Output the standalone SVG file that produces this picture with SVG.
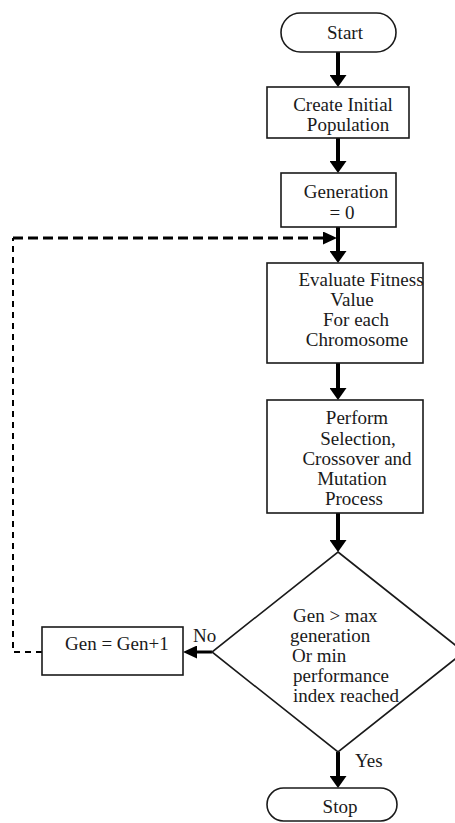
<svg xmlns="http://www.w3.org/2000/svg" width="455" height="823" viewBox="0 0 455 823">
<style>
.box{fill:#fff;stroke:#1a1a1a;stroke-width:1.6}
.t{font-family:"Liberation Serif","Times New Roman",serif;font-size:19px;fill:#1a1a1a}
.m{text-anchor:middle}
.arr{fill:none;stroke:#000;stroke-width:4}
.dash{fill:none;stroke:#000}
</style>
<defs>
<marker id="ah" viewBox="0 0 12 17" refX="8" refY="8.5" markerWidth="12" markerHeight="17" orient="auto" markerUnits="userSpaceOnUse">
<path d="M0,0 L12,8.5 L0,17 z" fill="#000"/>
</marker>
<marker id="ahs" viewBox="0 0 14 13" refX="10" refY="6.5" markerWidth="14" markerHeight="13" orient="auto" markerUnits="userSpaceOnUse">
<path d="M0,0 L14,6.5 L0,13 z" fill="#000"/>
</marker>
</defs>
<g id="connectors">
<path class="arr" d="M338,52 L338,83" marker-end="url(#ah)"/>
<path class="arr" d="M338,138 L338,169" marker-end="url(#ah)"/>
<path class="arr" d="M338,227 L338,259" marker-end="url(#ah)"/>
<path class="arr" d="M338,363 L338,396" marker-end="url(#ah)"/>
<path class="arr" d="M338,513 L338,548" marker-end="url(#ah)"/>
<path class="arr" d="M338,752 L338,784" marker-end="url(#ah)"/>
<path class="arr" style="stroke-width:3" d="M212,652 L187,652" marker-end="url(#ahs)"/>
<path class="dash" style="stroke-width:2" stroke-dasharray="6,5" d="M42,652 L13,652 L13,238"/>
<path class="dash" style="stroke-width:3" stroke-dasharray="10,5" d="M13,238 L333,238" marker-end="url(#ahs)"/>
<text class="t" x="193" y="642" font-size="18">No</text>
<text class="t" x="355" y="767">Yes</text>
</g>
<g id="start">
<rect class="box" x="281" y="13" width="115" height="39" rx="19.5"/>
<text class="t m" x="345" y="39">Start</text>
</g>
<g id="create">
<rect class="box" x="267" y="87" width="142" height="51"/>
<text class="t m" x="343" y="111">Create Initial</text>
<text class="t m" x="348" y="131">Population</text>
</g>
<g id="generation">
<rect class="box" x="281" y="173" width="115" height="54"/>
<text class="t m" x="346" y="198">Generation</text>
<text class="t m" x="342" y="219">= 0</text>
</g>
<g id="evaluate">
<rect class="box" x="267" y="263" width="156" height="100"/>
<text class="t m" x="361" y="286">Evaluate Fitness</text>
<text class="t m" x="352" y="306">Value</text>
<text class="t m" x="356" y="326">For each</text>
<text class="t m" x="357" y="346">Chromosome</text>
</g>
<g id="perform">
<rect class="box" x="267" y="400" width="156" height="113"/>
<text class="t m" x="357" y="424">Perform</text>
<text class="t m" x="358" y="445">Selection,</text>
<text class="t m" x="357" y="465">Crossover and</text>
<text class="t m" x="352" y="485">Mutation</text>
<text class="t m" x="354" y="505">Process</text>
</g>
<g id="decision">
<polygon class="box" points="338,552 464,652 338,752 212,652"/>
<text class="t" x="293" y="622">Gen &gt; max</text>
<text class="t" x="290" y="642">generation</text>
<text class="t" x="292" y="662">Or min</text>
<text class="t" x="293" y="682">performance</text>
<text class="t" x="293" y="702">index reached</text>
</g>
<g id="increment">
<rect class="box" x="42" y="627" width="141" height="48"/>
<text class="t" x="65" y="650">Gen = Gen+1</text>
</g>
<g id="stop">
<rect class="box" x="267" y="788" width="130" height="33" rx="16.5"/>
<text class="t m" x="340" y="813">Stop</text>
</g>
</svg>
